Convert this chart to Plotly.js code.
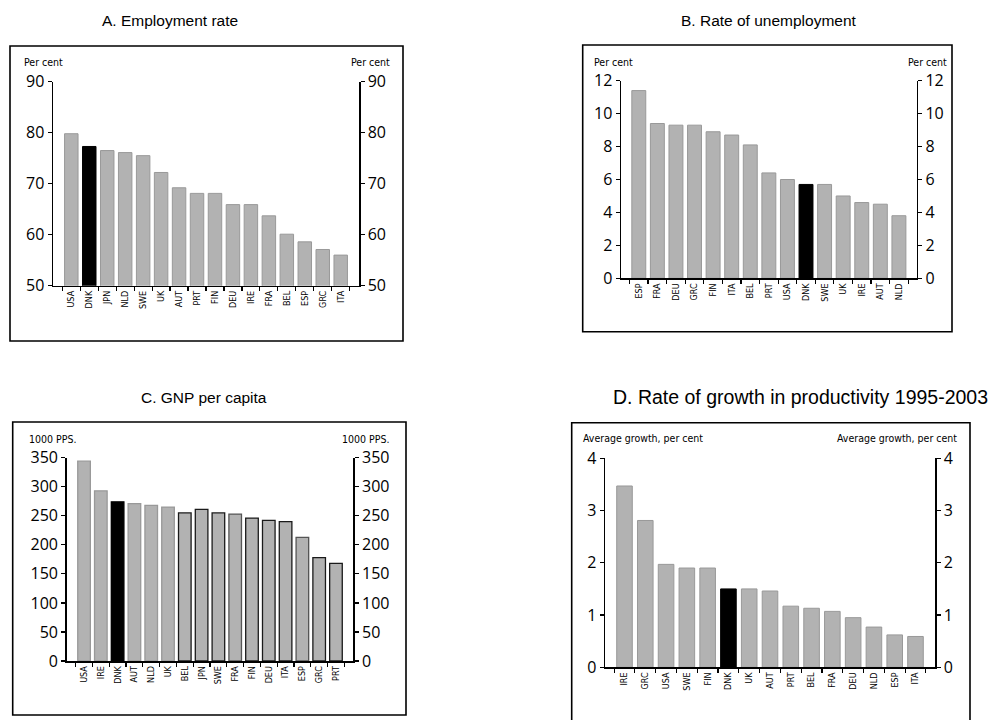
<!DOCTYPE html>
<html>
<head>
<meta charset="utf-8">
<script src="https://cdn.plot.ly/plotly-3.0.1.min.js"></script>
<style>
  html, body { margin: 0; padding: 0; background: #ffffff; }
  #chart { width: 1008px; height: 720px; }
</style>
</head>
<body>
<div id="chart"></div>
<script>
// ---------------- DATA ----------------
const empCountries = ['USA','DNK','JPN','NLD','SWE','UK','AUT','PRT','FIN','DEU','IRE','FRA','BEL','ESP','GRC','ITA'];
const empRate      = [79.8, 77.3, 76.5, 76.1, 75.5, 72.2, 69.2, 68.1, 68.1, 65.9, 65.9, 63.7, 60.1, 58.6, 57.1, 56.0];

const unempCountries = ['ESP','FRA','DEU','GRC','FIN','ITA','BEL','PRT','USA','DNK','SWE','UK','IRE','AUT','NLD'];
const unempRate      = [11.4, 9.4, 9.3, 9.3, 8.9, 8.7, 8.1, 6.4, 6.0, 5.7, 5.7, 5.0, 4.6, 4.5, 3.8];

const gnpCountries = ['USA','IRE','DNK','AUT','NLD','UK','BEL','JPN','SWE','FRA','FIN','DEU','ITA','ESP','GRC','PRT'];
const gnpPerCapita = [344, 293, 274, 271, 268, 265, 255, 261, 255, 253, 246, 242, 240, 213, 178, 168];

const prodCountries = ['IRE','GRC','USA','SWE','FIN','DNK','UK','AUT','PRT','BEL','FRA','DEU','NLD','ESP','ITA'];
const prodGrowth    = [3.47, 2.81, 1.97, 1.90, 1.90, 1.50, 1.50, 1.46, 1.17, 1.13, 1.07, 0.95, 0.77, 0.62, 0.59];

// tick labels shown on the x axes (as printed in the source)
const empLabels   = ['USA','DNK','JPN','NLD','SWE','UK','AUT','PRT','FIN','DEU','IRE','FRA','BEL','ESP','GRC','ITA'];
const unempLabels = ['ESP','FRA','DEU','GRC','FIN','ITA','BEL','PRT','USA','DNK','SWE','UK','IRE','AUT','NLD'];
const gnpLabels   = ['USA','IRE','DNK','AUT','NLD','UK','BEL','JPN','SWE','FRA','FIN','DEU','ITA','ESP','GRC','PRT'];
const prodLabels  = ['IRE','GRC','USA','SWE','FIN','DNK','UK','AUT','PRT','BEL','FRA','DEU','NLD','ESP','ITA'];

// ---------------- STYLE ----------------
const W = 1008, H = 720;
const px = v => v / W;
const py = v => 1 - v / H;
const GREY = '#b2b2b2', EDGE = '#999999', HIGHLIGHT = '#000000';
const gnpDarkEdge = ['BEL','JPN','SWE','FIN','DEU','ITA','GRC','PRT'];
const gnpMidEdge  = ['ESP','FRA'];

const fills = cats => cats.map(c => c === 'DNK' ? HIGHLIGHT : GREY);
const edges = cats => cats.map(c => c === 'DNK' ? HIGHLIGHT : EDGE);
const gnpEdges = gnpCountries.map(c => c === 'DNK' ? HIGHLIGHT :
  (gnpDarkEdge.includes(c) ? '#1a1a1a' : (gnpMidEdge.includes(c) ? '#555555' : EDGE)));

function barTrace(x, y, xa, ya, lineColors, lw) {
  return {
    type: 'bar', x: x, y: y, xaxis: xa, yaxis: ya,
    marker: { color: fills(x), line: { color: lineColors, width: lw } },
    hoverinfo: 'x+y', showlegend: false
  };
}
function ghost(x, y, xa, ya) {
  return { type: 'scatter', mode: 'markers', x: x, y: y, xaxis: xa, yaxis: ya,
    marker: { opacity: 0, size: 1 }, hoverinfo: 'skip', showlegend: false };
}

const data = [
  barTrace(empCountries, empRate, 'x', 'y', edges(empCountries), 1),
  ghost(empCountries, empRate, 'x', 'y2'),
  barTrace(unempCountries, unempRate, 'x2', 'y3', edges(unempCountries), 1),
  ghost(unempCountries, unempRate, 'x2', 'y4'),
  Object.assign(barTrace(gnpCountries, gnpPerCapita, 'x3', 'y5', gnpEdges, 1.3), {cliponaxis: false}),
  ghost(gnpCountries, gnpPerCapita, 'x3', 'y6'),
  barTrace(prodCountries, prodGrowth, 'x4', 'y7', edges(prodCountries), 1),
  ghost(prodCountries, prodGrowth, 'x4', 'y8')
];

const tickFontY = { family: 'Open Sans, Noto Sans, sans-serif', size: 16, color: '#000' };
const tickFontX = { family: 'DejaVu Sans Condensed, DejaVu Sans, sans-serif', size: 9, color: '#000' };

function xAxis(domain, anchor, cats, labels) {
  return {
    domain: domain, anchor: anchor, type: 'category',
    categoryorder: 'array', categoryarray: cats,
    tickmode: 'array', tickvals: cats, ticktext: labels,
    tickangle: -90, tickfont: tickFontX,
    ticks: 'outside', ticklen: 4, tickwidth: 1.2, tickcolor: '#000', tickson: 'boundaries',
    showline: true, linecolor: '#000', linewidth: 1.5,
    showgrid: false, zeroline: false, fixedrange: true
  };
}
function yAxis(domain, anchor, range, dtick, side, overlay) {
  const a = {
    domain: domain, anchor: anchor, range: range, dtick: dtick, tick0: range[0],
    side: side, ticks: 'outside', ticklen: 4, tickwidth: 1.2, tickcolor: '#000',
    tickfont: tickFontY, showline: true, linecolor: '#000', linewidth: 1.5,
    showgrid: false, zeroline: false, fixedrange: true
  };
  if (overlay) a.overlaying = overlay;
  return a;
}

// plot-area pixel boxes [left, right, top, bottom]
const boxA = [53, 359, 81.7, 285.7];
const boxB = [621, 916.7, 80.7, 278.3];
const boxC = [66.7, 353.3, 457.7, 661];
const boxD = [605, 935, 458.3, 667.3];
const xd = b => [px(b[0]), px(b[1])];
const yd = b => [py(b[3]), py(b[2])];

const layout = {
  width: W, height: H,
  margin: { l: 0, r: 0, t: 0, b: 0, pad: 0 },
  paper_bgcolor: '#fff', plot_bgcolor: 'rgba(0,0,0,0)',
  showlegend: false, bargap: 0.25,
  xaxis:  xAxis(xd(boxA), 'y',  empCountries, empLabels),
  yaxis:  yAxis(yd(boxA), 'x',  [50, 90], 10, 'left'),
  yaxis2: yAxis(yd(boxA), 'x',  [50, 90], 10, 'right', 'y'),
  xaxis2: xAxis(xd(boxB), 'y3', unempCountries, unempLabels),
  yaxis3: yAxis(yd(boxB), 'x2', [0, 12], 2, 'left'),
  yaxis4: yAxis(yd(boxB), 'x2', [0, 12], 2, 'right', 'y3'),
  xaxis3: xAxis(xd(boxC), 'y5', gnpCountries, gnpLabels),
  yaxis5: yAxis(yd(boxC), 'x3', [0, 350], 50, 'left'),
  yaxis6: yAxis(yd(boxC), 'x3', [0, 350], 50, 'right', 'y5'),
  xaxis4: xAxis(xd(boxD), 'y7', prodCountries, prodLabels),
  yaxis7: yAxis(yd(boxD), 'x4', [0, 4], 1, 'left'),
  yaxis8: yAxis(yd(boxD), 'x4', [0, 4], 1, 'right', 'y7'),
  shapes: [
    [10, 403, 46, 341], [582.7, 952, 45, 331.7],
    [12.7, 406, 422, 715], [571.7, 970, 422.7, 760]
  ].map(f => ({ type: 'rect', xref: 'paper', yref: 'paper',
    x0: px(f[0]), x1: px(f[1]), y0: py(f[3]), y1: py(f[2]),
    line: { color: '#000', width: 1.6 }, fillcolor: 'rgba(0,0,0,0)', layer: 'below' })),
  annotations: []
};

const titleFont = { family: 'Liberation Sans, Arial, sans-serif', size: 15.5, color: '#000' };
const titleFontD = { family: 'Liberation Sans, Arial, sans-serif', size: 19.5, color: '#000' };
const unitFont = { family: 'DejaVu Sans Condensed, DejaVu Sans, sans-serif', size: 10.5, color: '#000' };
function ann(text, x, y, font, xanchor) {
  layout.annotations.push({ text: text, xref: 'paper', yref: 'paper', x: px(x), y: py(y),
    xanchor: xanchor || 'center', yanchor: 'middle', showarrow: false, font: font });
}
ann('A. Employment rate', 170, 20, titleFont);
ann('B. Rate of unemployment', 769, 20, titleFont);
ann('C. GNP per capita', 204, 397, titleFont);
ann('D. Rate of growth in productivity 1995-2003', 800, 397, titleFontD);

ann('Per cent', 22, 62, unitFont, 'left');
ann('Per cent', 392, 62, unitFont, 'right');
ann('Per cent', 592, 62, unitFont, 'left');
ann('Per cent', 949, 62, unitFont, 'right');
ann('1000 PPS.', 27, 439, unitFont, 'left');
ann('1000 PPS.', 391, 439, unitFont, 'right');
ann('Average growth, per cent', 581, 438, unitFont, 'left');
ann('Average growth, per cent', 959, 438, unitFont, 'right');

Plotly.newPlot('chart', data, layout, { displayModeBar: false, staticPlot: true });
</script>
</body>
</html>
